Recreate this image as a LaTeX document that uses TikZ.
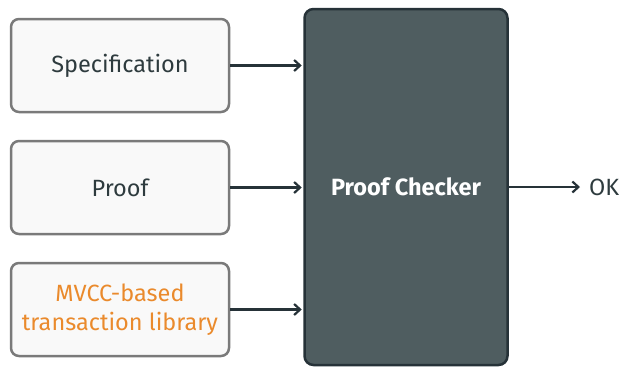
\documentclass[tikz,border=0pt]{standalone}
\usepackage{fontspec}
\setmainfont{Fira Sans}
\usetikzlibrary{arrows.meta}
\definecolor{boxfill}{HTML}{F9F9F9}
\definecolor{boxdraw}{HTML}{7A7A7A}
\definecolor{bigfill}{HTML}{4F5D60}
\definecolor{bigdraw}{HTML}{263238}
\definecolor{txt}{HTML}{2E3B3E}
\definecolor{orng}{HTML}{EA8A2C}
\tikzset{
  inbox/.style={draw=boxdraw, fill=boxfill, line width=2.5pt, rounded corners=8pt, minimum width=218pt, minimum height=93pt, inner sep=0pt, font=\fontsize{23.5}{29}\selectfont, text=txt, align=center},
  checker/.style={draw=bigdraw, fill=bigfill, line width=2.5pt, rounded corners=9pt, minimum width=203pt, minimum height=356pt, inner sep=0pt, font=\fontsize{23.5}{29}\selectfont\bfseries, text=white},
  conn/.style={draw=bigdraw, line width=2.2pt, -{Straight Barb[length=6pt,width=11pt,line width=2.2pt]}}
}
\begin{document}
\begin{tikzpicture}[x=1pt,y=-1pt]
\useasboundingbox (0,0) rectangle (624,368);
\node[inbox] (spec) at (120,65.5) {Specification};
\node[inbox] (proof) at (120,187.5) {Proof};
\node[inbox, text=orng] (lib) at (120,309.5) {MVCC-based\\transaction library};
\node[checker] (pc) at (406,187) {Proof Checker};
\coordinate (pcin1) at (pc.west |- spec.east);
\coordinate (pcin2) at (pc.west |- proof.east);
\coordinate (pcin3) at (pc.west |- lib.east);
\draw[conn] (spec.east) -- ([xshift=-1.5pt]pcin1);
\draw[conn] (proof.east) -- ([xshift=-1.5pt]pcin2);
\draw[conn] (lib.east) -- ([xshift=-1.5pt]pcin3);
\node[anchor=west, inner sep=0pt, font=\fontsize{23.5}{29}\selectfont, text=txt] (ok) at (589,187) {OK};
\coordinate (okin) at ([xshift=-9pt]ok.west |- pc.east);
\draw[conn] (pc.east) -- (okin);
\end{tikzpicture}
\end{document}
